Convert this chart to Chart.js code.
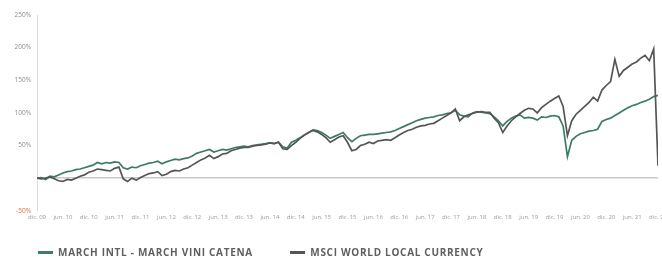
<!DOCTYPE html>
<html>
<head>
<meta charset="utf-8">
<script src="https://cdn.jsdelivr.net/npm/chart.js@4.4.1/dist/chart.umd.min.js"></script>
<style>
  html, body { margin: 0; padding: 0; background: #fff; overflow: hidden; }
  #wrap { position: relative; width: 690px; height: 257px; }
  #legend { position: absolute; left: 38px; top: 245px; font-family: "Open Sans", sans-serif; font-weight: 700; font-size: 10px; letter-spacing: 0.7px; color: #5f5f5f; white-space: nowrap; }
  #legend span.item { display: inline-block; }
  #legend span.mark { display: inline-block; width: 15px; height: 3px; vertical-align: middle; margin-right: 5px; position: relative; top: -1px; }
</style>
</head>
<body>
<div id="wrap">
  <canvas id="myChart" width="690" height="257"></canvas>
  <div id="legend">
    <span class="item"><span class="mark" style="background:#3d7b66"></span>MARCH INTL - MARCH VINI CATENA</span>
    <span class="item" style="margin-left:34px"><span class="mark" style="background:#555555"></span>MSCI WORLD LOCAL CURRENCY</span>
  </div>
</div>
<script>
// semiannual tick labels, one every 6 months (dic. 09 ... dic. 21)
const tickLabels = ["dic. 09", "jun. 10", "dic. 10", "jun. 11", "dic. 11", "jun. 12", "dic. 12",
  "jun. 13", "dic. 13", "jun. 14", "dic. 14", "jun. 15", "dic. 15", "jun. 16", "dic. 16",
  "jun. 17", "dic. 17", "jun. 18", "dic. 18", "jun. 19", "dic. 19", "jun. 20", "dic. 20",
  "jun. 21", "dic. 21"];

// monthly cumulative return (%), dic. 09 -> dic. 21
const marchIntl = [0, 1, -2, 3, 2, 5, 8, 10, 11, 13, 14, 16,
  18, 20, 24, 22, 24, 23, 25, 24, 16, 14, 17, 16,
  19, 21, 23, 24, 26, 22, 25, 27, 29, 28, 30, 31,
  34, 38, 40, 42, 44, 40, 42, 44, 43, 45, 47, 48,
  49, 48, 50, 51, 52, 53, 54, 53, 55, 48, 46, 55,
  58, 62, 66, 70, 74, 73, 70, 66, 61, 64, 67, 70,
  62, 56, 61, 65, 66, 67, 67, 68, 69, 70, 71, 73,
  76, 79, 82, 85, 88, 90, 92, 93, 94, 96, 97, 99,
  100, 104, 97, 95, 94, 100, 102, 101, 100, 99, 94, 88,
  80, 87, 92, 95, 97, 92, 93, 92, 89, 94, 93, 95,
  96, 94, 80, 33, 58, 64, 68, 70, 72, 73, 75, 87,
  90, 92, 96, 100, 104, 108, 111, 113, 116, 118, 121, 125,
  127];

const msciWorld = [0, -1, 0, 2, -1, -4, -5, -2, -3, 0, 3, 5,
  9, 11, 14, 13, 12, 11, 15, 17, -1, -5, 0, -3,
  1, 4, 7, 8, 10, 4, 6, 10, 12, 11, 14, 16,
  20, 24, 28, 31, 35, 30, 33, 37, 38, 42, 44, 46,
  47, 47, 49, 50, 51, 52, 54, 53, 55, 45, 44, 50,
  55, 61, 66, 70, 73, 71, 67, 62, 55, 59, 63, 65,
  55, 42, 44, 50, 52, 55, 53, 57, 58, 59, 58, 62,
  66, 70, 73, 75, 78, 80, 81, 83, 84, 88, 92, 96,
  100, 106, 88, 94, 97, 99, 101, 102, 101, 101, 92, 85,
  70, 80, 88, 94, 99, 104, 107, 106, 100, 108, 113, 118,
  122, 126, 110, 65, 88, 98, 104, 110, 116, 124, 118, 135,
  142, 148, 182, 156, 165, 170, 175, 178, 184, 188, 180, 198,
  19];

const toPoints = (arr) => arr.map((v, i) => ({ x: i, y: v }));

const ctx = document.getElementById('myChart').getContext('2d');
new Chart(ctx, {
  type: 'line',
  data: {
    datasets: [
      {
        label: 'MARCH INTL - MARCH VINI CATENA',
        data: toPoints(marchIntl),
        borderColor: '#3d7b66',
        borderWidth: 1.7,
        pointRadius: 0,
        tension: 0,
        order: 2
      },
      {
        label: 'MSCI WORLD LOCAL CURRENCY',
        data: toPoints(msciWorld),
        borderColor: '#555555',
        borderWidth: 1.7,
        pointRadius: 0,
        tension: 0,
        order: 1
      }
    ]
  },
  options: {
    responsive: false,
    animation: false,
    layout: { padding: { top: 15, right: 32, bottom: 33, left: 0 } },
    plugins: {
      legend: { display: false },
      tooltip: { enabled: false }
    },
    scales: {
      x: {
        type: 'linear',
        min: 0,
        max: marchIntl.length - 1,
        grid: { color: 'rgba(0,0,0,0)', drawTicks: false },
        border: { display: false },
        ticks: {
          autoSkip: false,
          stepSize: 6,
          maxRotation: 0,
          padding: 3,
          color: '#9a9a9a',
          font: { family: 'Open Sans', size: 6 },
          callback: function (value) {
            return value % 6 === 0 ? tickLabels[value / 6] : '';
          }
        }
      },
      y: {
        min: -50,
        max: 250,
        border: { display: true, color: '#dddddd' },
        grid: {
          color: (c) => (c.tick && c.tick.value === 0 ? '#c9c9c9' : 'rgba(0,0,0,0)'),
          lineWidth: (c) => (c.tick && c.tick.value === 0 ? 1.5 : 0),
          drawTicks: false
        },
        ticks: {
          stepSize: 50,
          padding: 6,
          color: (c) => (c.tick && c.tick.value === -50 ? '#e2714a' : '#8c8c8c'),
          font: { family: 'Open Sans', size: 6.5 },
          callback: function (value) {
            return value === 0 ? '' : value + '%';
          }
        },
        afterFit: function (scale) { scale.width = 37; }
      }
    }
  }
});
</script>
</body>
</html>
